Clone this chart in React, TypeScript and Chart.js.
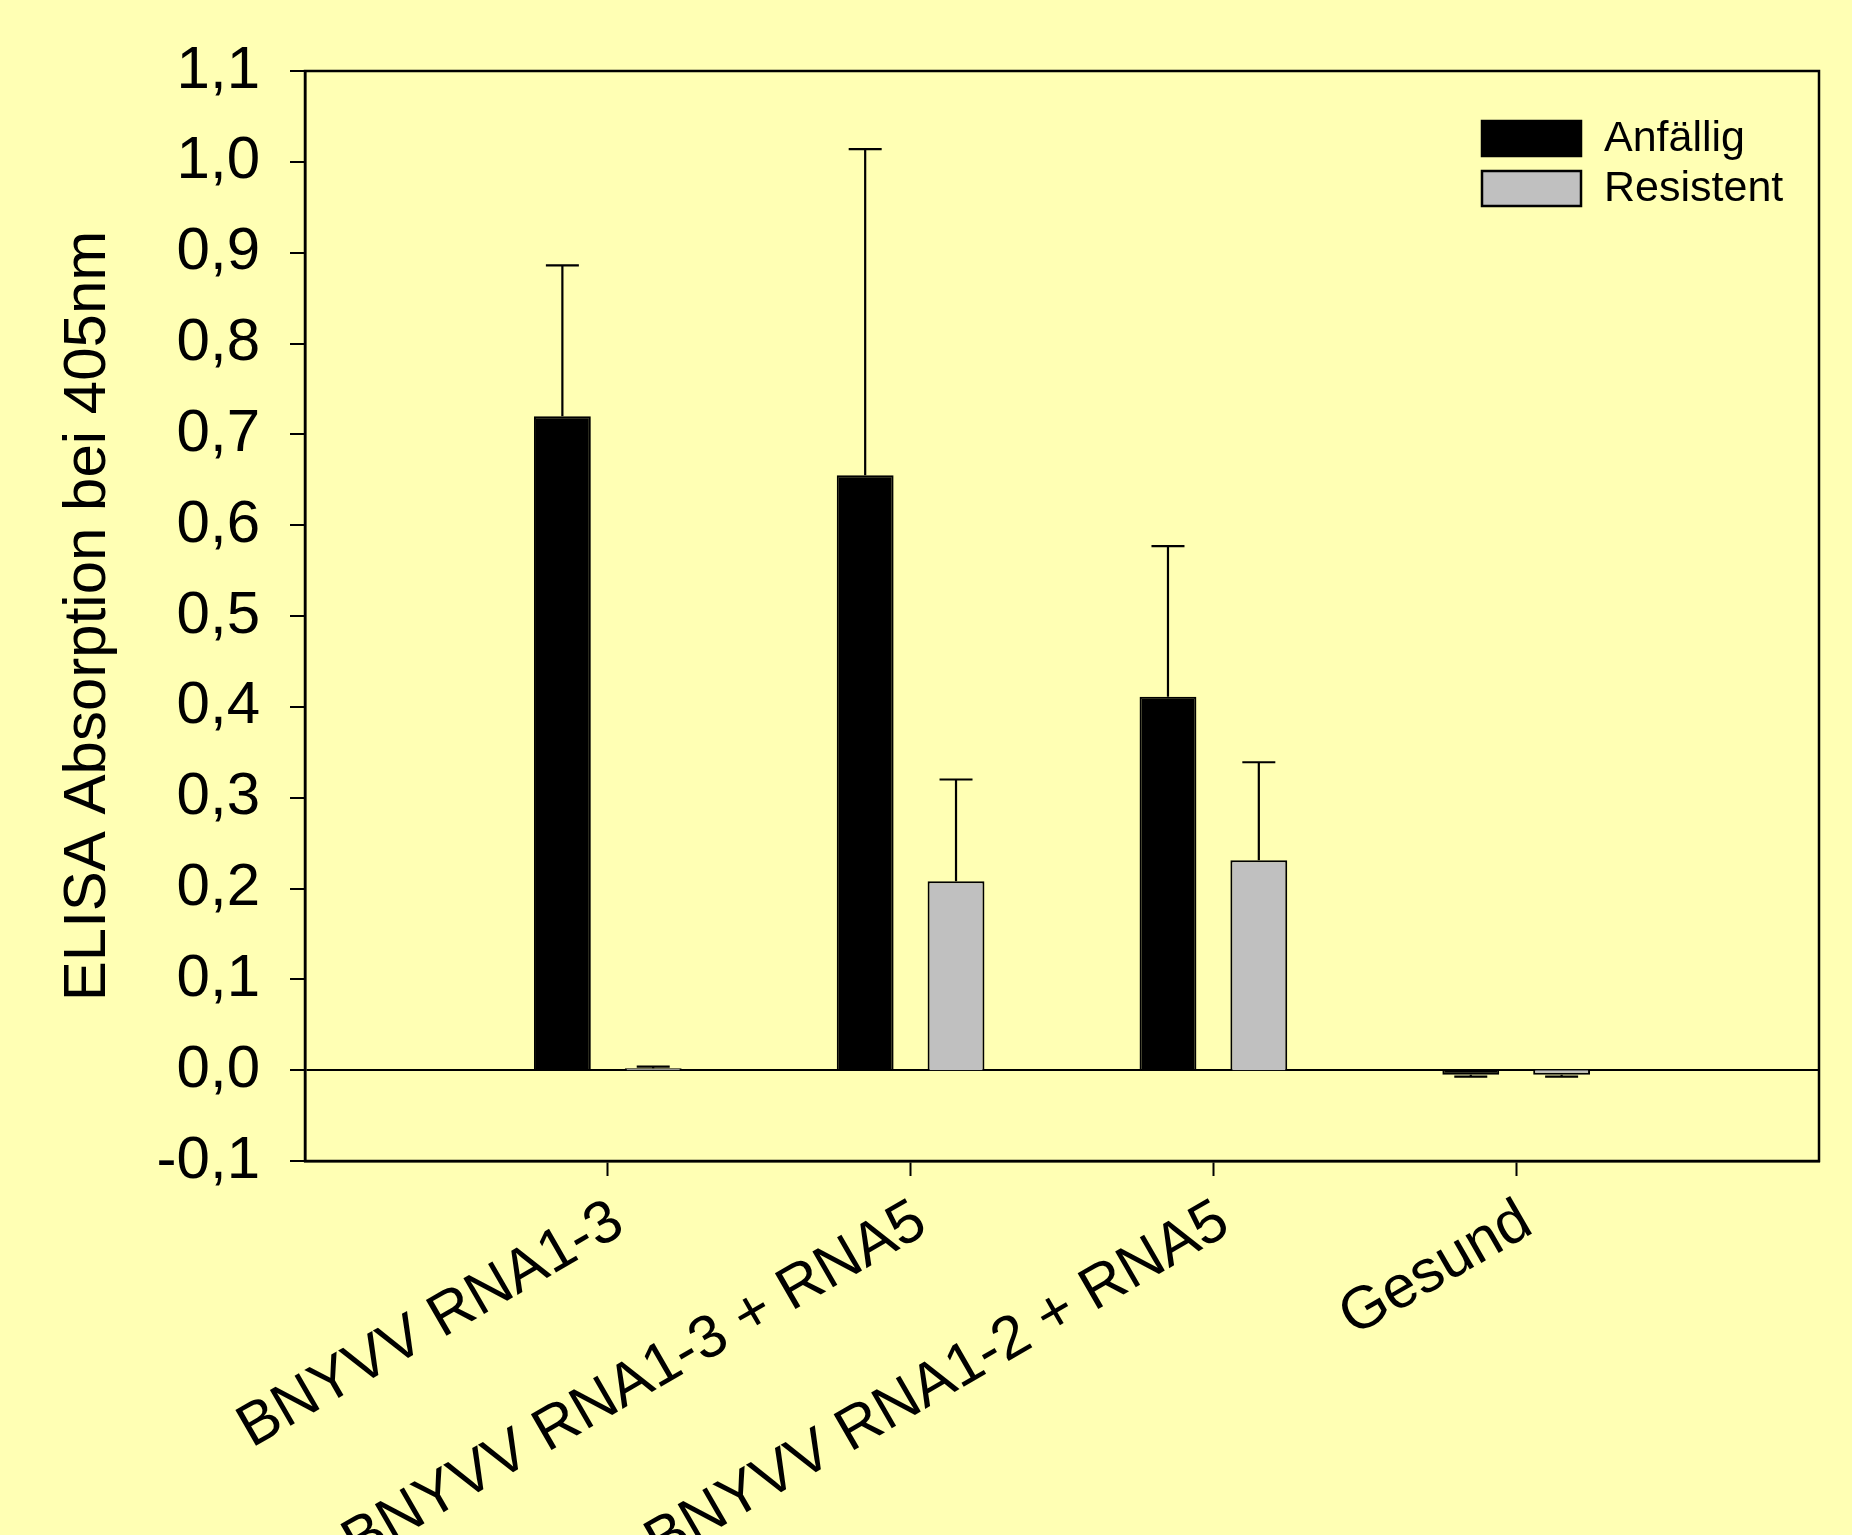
import React, { useEffect, useRef } from 'react';
import { Chart, registerables } from 'chart.js';

Chart.register(...registerables);

// ---- data ----
const categories = ['', 'BNYVV RNA1-3', 'BNYVV RNA1-3 + RNA5', 'BNYVV RNA1-2 + RNA5', 'Gesund', ''];
const seriesNames = ['Anfällig', 'Resistent'];
const anfaelligValues = [null, 0.72, 0.655, 0.411, -0.005, null];
const anfaelligErrors = [null, 0.166, 0.359, 0.166, -0.002, null];
const resistentValues = [null, 0.002, 0.208, 0.231, -0.005, null];
const resistentErrors = [null, 0.002, 0.112, 0.108, -0.002, null];
const yMin = -0.1;
const yMax = 1.1;
const yStep = 0.1;

const FONT = '"Liberation Sans", Arial, sans-serif';
const BG = '#FFFFB4';

const errorSets = [anfaelligErrors, resistentErrors];

const errorBarsPlugin = {
  id: 'errorBars',
  afterDatasetsDraw(chart: any) {
    const ctx = chart.ctx;
    const ys = chart.scales.y;
    ctx.save();
    ctx.strokeStyle = '#000';
    ctx.lineWidth = 2.2;
    chart.data.datasets.forEach((ds: any, di: number) => {
      const meta = chart.getDatasetMeta(di);
      const errs = errorSets[di];
      meta.data.forEach((bar: any, i: number) => {
        const v = ds.data[i];
        const e = errs[i];
        if (v == null || e == null) return;
        const y0 = ys.getPixelForValue(v);
        const y1 = ys.getPixelForValue(v + e);
        ctx.beginPath();
        ctx.moveTo(bar.x, y0);
        ctx.lineTo(bar.x, y1);
        ctx.moveTo(bar.x - 16.5, y1);
        ctx.lineTo(bar.x + 16.5, y1);
        ctx.stroke();
      });
    });
    ctx.restore();
  },
};

const framePlugin = {
  id: 'frame',
  afterDraw(chart: any) {
    const { left, right, top, bottom } = chart.chartArea;
    const ctx = chart.ctx;
    ctx.save();
    ctx.strokeStyle = '#000';
    ctx.lineWidth = 2.5;
    ctx.strokeRect(left, top, right - left, bottom - top);
    ctx.restore();
  },
};

const legendPlugin = {
  id: 'customLegend',
  afterDraw(chart: any) {
    const ctx = chart.ctx;
    const { right, top } = chart.chartArea;
    const swW = 99;
    const swH = 35;
    const x0 = right - 238 - swW;
    ctx.save();
    chart.data.datasets.forEach((ds: any, i: number) => {
      const y0 = top + 50 + i * 50;
      ctx.fillStyle = ds.backgroundColor;
      ctx.fillRect(x0, y0, swW, swH);
      ctx.strokeStyle = '#000';
      ctx.lineWidth = 2.5;
      ctx.strokeRect(x0, y0, swW, swH);
      ctx.fillStyle = '#000';
      ctx.font = `43px ${FONT}`;
      ctx.textAlign = 'left';
      ctx.textBaseline = 'middle';
      ctx.fillText(ds.label, x0 + swW + 23, y0 + swH / 2 + 1);
    });
    ctx.restore();
  },
};

export default function App() {
  const canvasRef = useRef<HTMLCanvasElement | null>(null);

  useEffect(() => {
    const canvas = canvasRef.current;
    if (!canvas) return;
    const chart = new Chart(canvas, {
      type: 'bar',
      data: {
        labels: categories,
        datasets: [
          {
            label: seriesNames[0],
            data: anfaelligValues as any,
            backgroundColor: '#000000',
            borderColor: '#000000',
            borderWidth: 2,
          },
          {
            label: seriesNames[1],
            data: resistentValues as any,
            backgroundColor: '#C0C0C0',
            borderColor: '#000000',
            borderWidth: 2,
          },
        ],
      },
      options: {
        animation: false,
        responsive: false,
        maintainAspectRatio: false,
        layout: { padding: { top: 71, right: 33, left: 0, bottom: 0 } },
        datasets: {
          bar: { categoryPercentage: 0.6, barPercentage: 0.626 },
        },
        plugins: {
          legend: { display: false },
          tooltip: { enabled: false },
        },
        scales: {
          x: {
            type: 'category',
            offset: false,
            afterFit: (scale: any) => {
              scale.height = 374;
              scale.paddingLeft = 0;
              scale.paddingRight = 0;
            },
            border: { display: true, color: '#000', width: 2.5 },
            grid: {
              display: true,
              offset: false,
              drawOnChartArea: false,
              drawTicks: true,
              tickLength: 15,
              tickWidth: 2,
              tickColor: (c: any) => (c.index === 0 || c.index === categories.length - 1 ? 'rgba(0,0,0,0)' : '#000'),
            },
            ticks: {
              autoSkip: false,
              minRotation: 30,
              maxRotation: 30,
              padding: 10,
              labelOffset: 11,
              color: '#000',
              font: { family: FONT, size: 60 },
            },
          },
          y: {
            min: yMin,
            max: yMax,
            afterFit: (scale: any) => {
              scale.width = 305;
            },
            border: { display: true, color: '#000', width: 2.5 },
            grid: {
              display: true,
              drawOnChartArea: true,
              drawTicks: true,
              tickLength: 15,
              lineWidth: 2,
              tickWidth: 2,
              tickColor: '#000',
              color: (c: any) => (c.tick && Math.abs(c.tick.value) < 1e-9 ? '#000' : 'rgba(0,0,0,0)'),
            },
            ticks: {
              stepSize: yStep,
              padding: 30,
              color: '#000',
              font: { family: FONT, size: 60 },
              callback: (v: any) => Number(v).toFixed(1).replace('.', ','),
            },
            title: {
              display: true,
              text: 'ELISA Absorption bei 405nm',
              color: '#000',
              font: { family: FONT, size: 60 },
              padding: { top: 52, bottom: 0 },
            },
          },
        },
      },
      plugins: [errorBarsPlugin, framePlugin, legendPlugin],
    });
    return () => chart.destroy();
  }, []);

  return (
    <div
      style={{
        position: 'fixed',
        left: 0,
        top: 0,
        width: 1852,
        height: 1535,
        background: BG,
        overflow: 'hidden',
      }}
    >
      <canvas ref={canvasRef} width={1852} height={1535} style={{ display: 'block', width: 1852, height: 1535 }} />
    </div>
  );
}
